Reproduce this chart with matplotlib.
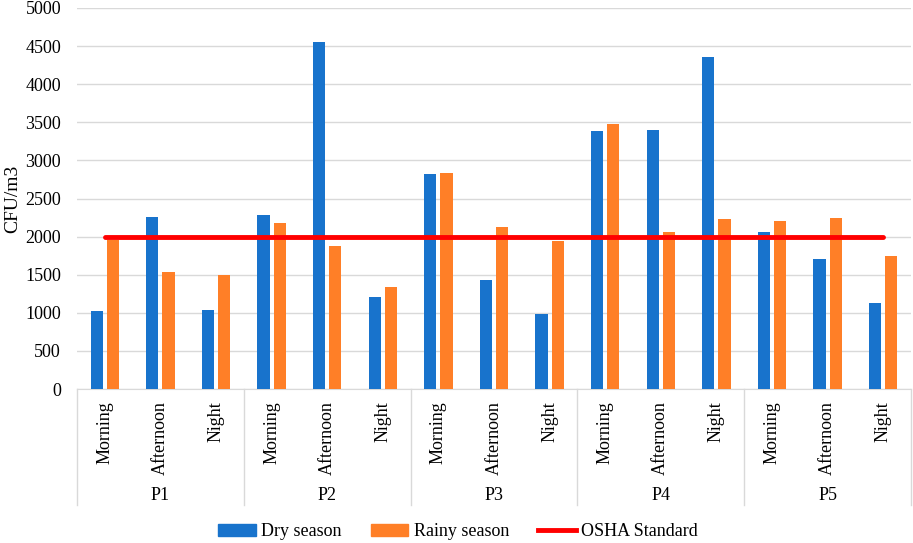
import matplotlib
matplotlib.use("Agg")
import matplotlib.pyplot as plt
import matplotlib.transforms as mtransforms
from matplotlib.lines import Line2D
from matplotlib.patches import Patch

groups = ["P1", "P2", "P3", "P4", "P5"]
times = ["Morning", "Afternoon", "Night"]
dry = [1030, 2260, 1040, 2290, 4560, 1210, 2820, 1430, 980, 3380, 3400, 4360, 2060, 1700, 1130]
rainy = [1960, 1530, 1490, 2180, 1880, 1340, 2840, 2120, 1940, 3480, 2060, 2230, 2200, 2250, 1750]
osha = [2000] * 15
yticks = list(range(0, 5001, 500))

plt.rcParams['font.family'] = ['Liberation Serif', 'DejaVu Serif']

fig = plt.figure(figsize=(9.13, 5.43), dpi=100)
ax = fig.add_axes([77/913, 1-389/543, (911-77)/913, (389-8)/543])

n = len(dry)
x = list(range(n))
w = 0.22
off = 0.145
blue = '#1873CC'
orange = '#FF7F27'
ax.bar([i - off for i in x], dry, width=w, color=blue, zorder=3)
ax.bar([i + off for i in x], rainy, width=w, color=orange, zorder=3)
ax.plot(x, osha, color='#FF0000', lw=3.5, solid_capstyle='round', zorder=4)

ax.set_xlim(-0.5, n - 0.5)
ax.set_ylim(0, 5000)
ax.set_yticks(yticks)
ax.set_yticklabels([str(v) for v in yticks], fontsize=13)
ax.yaxis.grid(True, color='#D9D9D9', lw=1, zorder=0)
ax.set_axisbelow(True)
for s in ['top', 'right', 'left']:
    ax.spines[s].set_visible(False)
ax.spines['bottom'].set_color('#D9D9D9')
ax.tick_params(axis='y', length=0, pad=11.5)
ax.tick_params(axis='x', length=0, pad=9)
ax.set_ylabel('CFU/m3', fontsize=14, labelpad=3)

ax.set_xticks(x)
ax.set_xticklabels(times * len(groups), rotation=90, fontsize=13, va='top')

trans = mtransforms.blended_transform_factory(ax.transData, ax.transAxes)
axh = (389 - 8)
bottom_y = -(505 - 389) / axh
for k in range(len(groups) + 1):
    xb = -0.5 + 3 * k
    ax.plot([xb, xb], [0, bottom_y], transform=trans, color='#D9D9D9', lw=1, clip_on=False)
for k, g in enumerate(groups):
    ax.text(1 + 3 * k, -(496 - 389) / axh, g, transform=trans, ha='center', va='center', fontsize=13)

handles = [Patch(color=blue, label='Dry season'),
           Patch(color=orange, label='Rainy season'),
           Line2D([0], [0], color='#FF0000', lw=3.5, label='OSHA Standard')]
fig.legend(handles=handles, loc='center', bbox_to_anchor=(458/913, 1-532/543), ncol=3,
           frameon=False, fontsize=13, handlelength=2.1, handleheight=0.6, columnspacing=1.6,
           handletextpad=0.3, borderaxespad=0, borderpad=0)

fig.savefig('out.png', dpi=100)
